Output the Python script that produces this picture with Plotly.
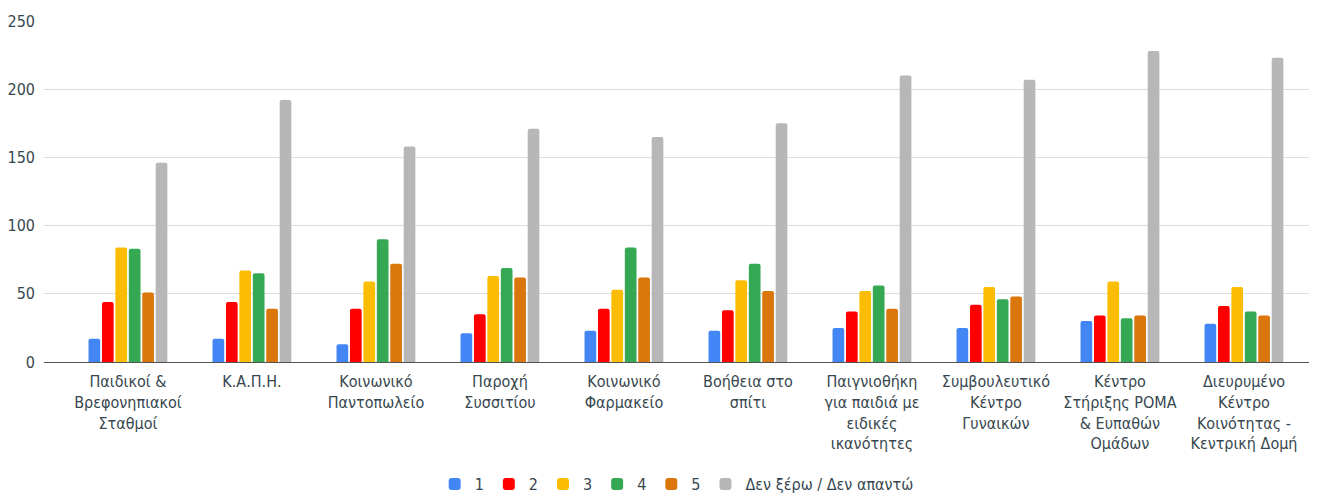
import plotly.graph_objects as go

categories = [
    "Παιδικοί &<br>Βρεφονηπιακοί<br>Σταθμοί",
    "Κ.Α.Π.Η.",
    "Κοινωνικό<br>Παντοπωλείο",
    "Παροχή<br>Συσσιτίου",
    "Κοινωνικό<br>Φαρμακείο",
    "Βοήθεια στο<br>σπίτι",
    "Παιγνιοθήκη<br>για παιδιά με<br>ειδικές<br>ικανότητες",
    "Συμβουλευτικό<br>Κέντρο<br>Γυναικών",
    "Κέντρο<br>Στήριξης ΡΟΜΑ<br>& Ευπαθών<br>Ομάδων",
    "Διευρυμένο<br>Κέντρο<br>Κοινότητας -<br>Κεντρική Δομή",
]

score_1 = [17, 17, 13, 21, 23, 23, 25, 25, 30, 28]
score_2 = [44, 44, 39, 35, 39, 38, 37, 42, 34, 41]
score_3 = [84, 67, 59, 63, 53, 60, 52, 55, 59, 55]
score_4 = [83, 65, 90, 69, 84, 72, 56, 46, 32, 37]
score_5 = [51, 39, 72, 62, 62, 52, 39, 48, 34, 34]
dont_know = [146, 192, 158, 171, 165, 175, 210, 207, 228, 223]

series_names = ["1", "2", "3", "4", "5", "Δεν ξέρω / Δεν απαντώ"]
series_values = [score_1, score_2, score_3, score_4, score_5, dont_know]
colors = ["#4285F4", "#FF0000", "#FBBC04", "#34A853", "#DB760B", "#B7B7B7"]

y_ticks = [0, 50, 100, 150, 200, 250]

font_family = "DejaVu Sans Condensed, Liberation Sans, Arial, sans-serif"
text_color = "#37474F"

fig = go.Figure()
x_idx = list(range(len(categories)))
for name, vals, color in zip(series_names, series_values, colors):
    fig.add_trace(go.Bar(
        x=x_idx,
        y=vals,
        name=name,
        marker_color=color,
        marker_line_width=0,
    ))

# page body keeps its default 8px margin, so the figure starts at (8, 8)
fig.update_layout(
    width=1309,
    height=486,
    margin=dict(l=36, r=0, t=13, b=132),
    paper_bgcolor="white",
    plot_bgcolor="white",
    barmode="group",
    bargap=0.35,
    bargroupgap=0.13,
    barcornerradius=2,
    font=dict(family=font_family, size=16, color=text_color),
    legend=dict(
        orientation="h",
        x=0.497,
        xanchor="center",
        yref="container",
        y=0.0206,
        yanchor="middle",
        font=dict(size=16, color=text_color),
        itemwidth=30,
        traceorder="normal",
    ),
    xaxis=dict(
        tickmode="array",
        tickvals=x_idx,
        ticktext=categories,
        range=[-0.677, 9.589],
        showgrid=False,
        showline=False,
        ticks="",
        automargin=False,
        ticklabelstandoff=8,
        tickfont=dict(size=16, color=text_color),
    ),
    yaxis=dict(
        range=[0, 250],
        tickvals=y_ticks,
        showgrid=True,
        gridcolor="#DDDDDD",
        gridwidth=1,
        zeroline=True,
        zerolinecolor="#555555",
        zerolinewidth=1,
        ticks="",
        automargin=False,
        ticklabelstandoff=8,
        tickfont=dict(size=16, color=text_color),
    ),
)

fig.write_html("out.html")
